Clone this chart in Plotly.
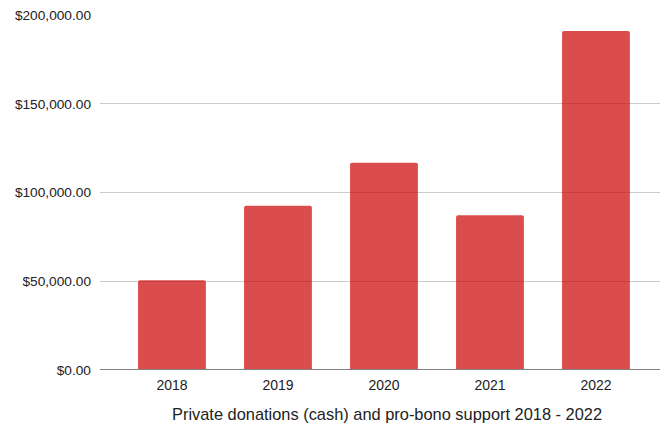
import plotly.graph_objects as go

years = ["2018", "2019", "2020", "2021", "2022"]
amounts = [50600, 92500, 116800, 87200, 191000]
y_ticks = [0, 50000, 100000, 150000, 200000]
y_tick_labels = ["$0.00", "$50,000.00", "$100,000.00", "$150,000.00", "$200,000.00"]
x_title = "Private donations (cash) and pro-bono support 2018 - 2022"

fig = go.Figure(go.Bar(
    x=list(range(len(years))), y=amounts,
    width=0.64,
    marker=dict(color="rgba(204,0,0,0.7)", line=dict(width=0), cornerradius=2),
    hoverinfo="skip",
))

font = "Liberation Sans, Arial, sans-serif"
fig.update_layout(
    width=660, height=424,
    margin=dict(l=100, r=0, t=15, b=54),
    paper_bgcolor="white", plot_bgcolor="white",
    showlegend=False,
    font=dict(family=font, size=13, color="#222222"),
    xaxis=dict(
        tickmode="array", tickvals=list(range(len(years))), ticktext=years,
        range=[-0.679, 4.604], showgrid=False, zeroline=False,
        showline=False, ticks="", ticklabelstandoff=5,
        tickfont=dict(size=14, color="#222222"),
    ),
    yaxis=dict(
        tickmode="array", tickvals=y_ticks, ticktext=y_tick_labels,
        range=[0, 200000], showgrid=True, gridcolor="#cccccc", gridwidth=1,
        zeroline=False, showline=False, ticks="", ticklabelstandoff=8,
        tickfont=dict(size=13.7, color="#222222"),
    ),
    shapes=[dict(type="line", xref="paper", yref="y", x0=0, x1=1, y0=0, y1=0,
                 line=dict(color="#808080", width=2))],
    annotations=[dict(text=x_title, xref="paper", yref="paper", x=0.5125, y=0,
                      yshift=-44, xanchor="center", yanchor="middle", showarrow=False,
                      font=dict(size=16.4, color="#222222"))],
)

fig.write_html("out.html")
